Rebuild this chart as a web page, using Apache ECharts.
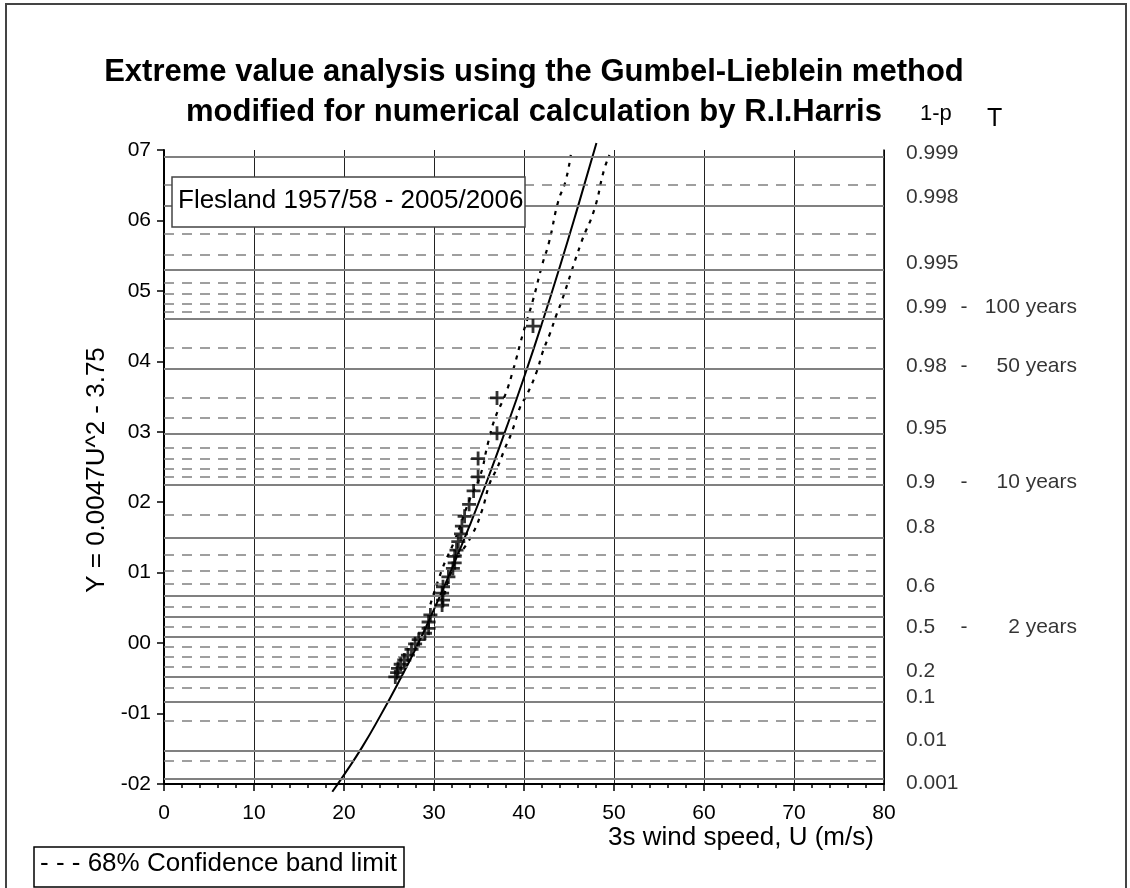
<!DOCTYPE html>
<html>
<head>
<meta charset="utf-8">
<script src="https://cdn.jsdelivr.net/npm/echarts@6/dist/echarts.min.js"></script>
<style>
html,body{margin:0;padding:0;background:#fff;}
#chart{width:1130px;height:888px;}
</style>
</head>
<body>
<div id="chart"></div>
<script>
// ---------------- data ----------------
const yTickValues = [-2, -1, 0, 1, 2, 3, 4, 5, 6, 7];
const yTickLabels = ['-02', '-01', '00', '01', '02', '03', '04', '05', '06', '07'];
const xTickLabels = ['0', '10', '20', '30', '40', '50', '60', '70', '80'];

// probability grid lines (1-p), drawn on the Gumbel reduced-variate scale
const probSolid = [0.999, 0.998, 0.995, 0.99, 0.98, 0.95, 0.9, 0.8, 0.6, 0.5, 0.4, 0.2, 0.1, 0.01, 0.001];
const probDashed = [0.9985, 0.997, 0.996, 0.994, 0.993, 0.992, 0.991, 0.985, 0.97, 0.96, 0.94, 0.93, 0.92, 0.91,
                    0.85, 0.75, 0.7, 0.65, 0.55, 0.45, 0.35, 0.3, 0.25, 0.15, 0.05, 0.005];

// right-hand labels
const rightLabels = ['0.999', '0.998', '0.995', '0.99', '0.98', '0.95', '0.9', '0.8', '0.6', '0.5', '0.2', '0.1', '0.01', '0.001'];
const rightLabelY = [6.96, 6.33, 5.40, 4.77, 3.93, 3.05, 2.29, 1.65, 0.81, 0.22, -0.40, -0.77, -1.38, -1.99];
const returnPeriods = ['', '', '', '100 years', '50 years', '', '10 years', '', '', '2 years', '', '', '', ''];

// observed points (U, Y)
const obsU = [41.0, 37.0, 37.0, 34.9, 34.9, 34.4, 33.9, 33.4, 33.1, 33.0, 32.7, 32.5, 32.3, 32.3, 32.1,
              31.6, 31.0, 30.9, 31.0, 30.9, 29.6, 29.4, 29.4, 29.0, 28.3, 27.9, 27.5, 27.1, 26.7, 26.3,
              26.0, 25.9, 25.7];
const obsY = [4.50, 3.48, 2.98, 2.62, 2.36, 2.16, 1.97, 1.80, 1.66, 1.55, 1.44, 1.32, 1.23, 1.14, 1.06,
              0.94, 0.80, 0.71, 0.61, 0.54, 0.40, 0.30, 0.21, 0.14, 0.05, -0.01, -0.09, -0.17, -0.24, -0.30,
              -0.36, -0.42, -0.48];

// fitted curve
const fitU = [18.7, 20, 22, 24, 26, 28, 30, 32, 34, 36, 38, 40, 42, 44, 46, 48.05];
const fitY = [-2.11, -1.87, -1.48, -1.04, -0.57, -0.07, 0.48, 1.06, 1.68, 2.34, 3.04, 3.77, 4.54, 5.35, 6.20, 7.10];

// 68% confidence band limits
const bandLowU = [29.6, 31.0, 32.3, 34.0, 35.1, 36.0, 36.8, 37.9, 38.8, 39.9, 41.0, 42.0, 42.8, 43.8, 44.6, 45.2];
const bandLowY = [0.55, 1.08, 1.46, 2.05, 2.36, 2.84, 3.20, 3.52, 3.88, 4.40, 4.87, 5.36, 5.70, 6.27, 6.55, 6.93];
const bandHighU = [30.9, 32.2, 34.2, 35.3, 36.2, 37.0, 37.9, 38.6, 39.6, 40.3, 41.4, 42.1, 42.9, 43.6, 44.2, 46.4, 47.8, 48.9, 49.5];
const bandHighY = [0.55, 1.10, 1.53, 1.87, 2.27, 2.48, 2.77, 2.98, 3.36, 3.52, 3.85, 4.14, 4.40, 4.66, 4.86, 5.70, 6.15, 6.72, 6.93];

// ---------------- chart ----------------
const FONT = 'Liberation Sans, Arial, sans-serif';
const reduced = p => -Math.log(-Math.log(p));
const zip = (a, b) => a.map((v, i) => [v, b[i]]);

const chart = echarts.init(document.getElementById('chart'), null, {renderer: 'canvas'});

const plusPath = 'path://M4,0H6V4H10V6H6V10H4V6H0V4H4Z';

const option = {
  animation: false,
  backgroundColor: '#fff',
  grid: {left: 164, top: 150, right: 246, bottom: 104, containLabel: false},
  xAxis: {
    type: 'value', min: 0, max: 80, interval: 10,
    axisLine: {show: true, onZero: false, lineStyle: {color: '#000', width: 2}},
    axisTick: {show: true, length: 7, lineStyle: {color: '#000', width: 1.5}},
    minorTick: {show: true, splitNumber: 5, length: 4, lineStyle: {color: '#000', width: 1.5}},
    axisLabel: {
      margin: 19, color: '#000', fontSize: 21, fontFamily: FONT,
      formatter: v => xTickLabels[Math.round(v / 10)]
    },
    splitLine: {show: true, lineStyle: {color: '#222', width: 1}}
  },
  yAxis: [{
    type: 'value', min: -2, max: 7, interval: 1,
    axisLine: {show: true, onZero: false, lineStyle: {color: '#000', width: 2}},
    axisTick: {show: true, length: 7, lineStyle: {color: '#000', width: 1.5}},
    axisLabel: {
      margin: 13, color: '#000', fontSize: 21, fontFamily: FONT,
      formatter: v => yTickLabels[yTickValues.indexOf(Math.round(v))]
    },
    splitLine: {show: false}
  }, {
    type: 'value', min: -2, max: 7, interval: 1, position: 'right',
    axisLine: {show: true, onZero: false, lineStyle: {color: '#000', width: 1.5}},
    axisTick: {show: false}, axisLabel: {show: false}, splitLine: {show: false}
  }],
  series: [
    {
      name: 'gridSolid', type: 'line', data: [], z: 1, silent: true,
      markLine: {
        silent: true, symbol: ['none', 'none'], label: {show: false}, animation: false,
        lineStyle: {color: '#808080', width: 2, type: 'solid'},
        data: probSolid.map(p => ({yAxis: reduced(p)}))
      }
    },
    {
      name: 'gridDashed', type: 'line', data: [], z: 1, silent: true,
      markLine: {
        silent: true, symbol: ['none', 'none'], label: {show: false}, animation: false,
        lineStyle: {color: '#808080', width: 1.5, type: [10, 8]},
        data: probDashed.map(p => ({yAxis: reduced(p)}))
      }
    },
    {
      name: 'fit', type: 'line', data: zip(fitU, fitY), smooth: true, showSymbol: false, clip: false, z: 4,
      lineStyle: {color: '#000', width: 2}
    },
    {
      name: 'bandLow', type: 'line', data: zip(bandLowU, bandLowY), smooth: true, showSymbol: false, z: 3,
      lineStyle: {color: '#000', width: 2.2, type: [4, 6]}
    },
    {
      name: 'bandHigh', type: 'line', data: zip(bandHighU, bandHighY), smooth: true, showSymbol: false, z: 3,
      lineStyle: {color: '#000', width: 2.2, type: [4, 6]}
    },
    {
      name: 'observed', type: 'scatter', data: zip(obsU, obsY), symbol: plusPath, symbolSize: 14, z: 5,
      itemStyle: {color: '#000'}
    },
    {
      name: 'rightLabels', type: 'scatter', data: rightLabelY.map(y => [80, y]), symbolSize: 0, z: 5,
      clip: false, silent: true,
      label: {
        show: true, position: 'right', distance: 22, color: '#000', fontSize: 21, fontFamily: FONT,
        formatter: p => {
          const i = p.dataIndex;
          return returnPeriods[i] ? '{a|' + rightLabels[i] + '}{b|-}{c|' + returnPeriods[i] + '}' : '{a|' + rightLabels[i] + '}';
        },
        rich: {
          a: {width: 50, align: 'left', fontSize: 21, fontFamily: FONT, color: '#000'},
          b: {width: 16, align: 'center', fontSize: 21, fontFamily: FONT, color: '#000'},
          c: {width: 105, align: 'right', fontSize: 21, fontFamily: FONT, color: '#000'}
        }
      }
    }
  ],
  graphic: [
    {type: 'rect', shape: {x: 6, y: 4, width: 1120, height: 900}, style: {fill: 'none', stroke: '#444', lineWidth: 2}, silent: true, z: 0},
    {type: 'text', x: 534, y: 72, style: {text: 'Extreme value analysis using the Gumbel-Lieblein method', font: 'bold 31px ' + FONT, fill: '#000', textAlign: 'center', textVerticalAlign: 'middle'}},
    {type: 'text', x: 534, y: 112, style: {text: 'modified for numerical calculation by R.I.Harris', font: 'bold 31px ' + FONT, fill: '#000', textAlign: 'center', textVerticalAlign: 'middle'}},
    {type: 'text', x: 920, y: 114, style: {text: '1-p', font: '22px ' + FONT, fill: '#000', textAlign: 'left', textVerticalAlign: 'middle'}},
    {type: 'text', x: 987, y: 119, style: {text: 'T', font: '25px ' + FONT, fill: '#000', textAlign: 'left', textVerticalAlign: 'middle'}},
    {type: 'text', x: 97, y: 470, rotation: Math.PI / 2, style: {text: 'Y = 0.0047U^2 - 3.75', font: '26px ' + FONT, fill: '#000', textAlign: 'center', textVerticalAlign: 'middle'}},
    {type: 'text', x: 608, y: 838, style: {text: '3s wind speed, U (m/s)', font: '26px ' + FONT, fill: '#000', textAlign: 'left', textVerticalAlign: 'middle'}},
    {type: 'rect', shape: {x: 172, y: 177, width: 353, height: 50}, style: {fill: '#fff', stroke: '#444', lineWidth: 1.5}, z: 10},
    {type: 'text', x: 178, y: 201, z: 11, style: {text: 'Flesland 1957/58 - 2005/2006', font: '26px ' + FONT, fill: '#000', textAlign: 'left', textVerticalAlign: 'middle'}},
    {type: 'rect', shape: {x: 34, y: 847, width: 370, height: 40}, style: {fill: '#fff', stroke: '#000', lineWidth: 1.5}, z: 10},
    {type: 'text', x: 40, y: 864, z: 11, style: {text: '- - - 68% Confidence band limit', font: '26px ' + FONT, fill: '#000', textAlign: 'left', textVerticalAlign: 'middle'}}
  ]
};
chart.setOption(option);
</script>
</body>
</html>
